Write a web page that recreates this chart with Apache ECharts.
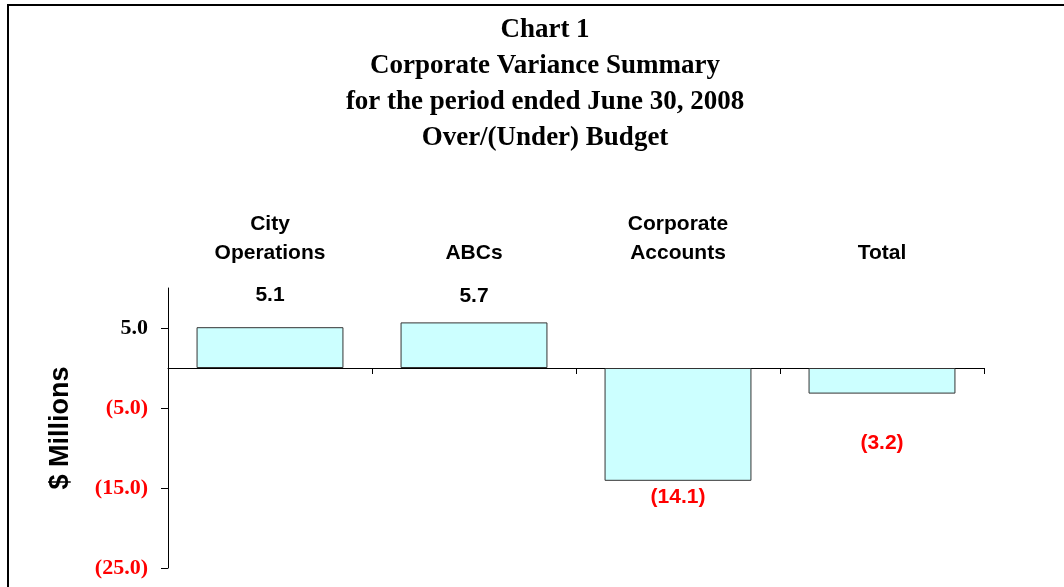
<!DOCTYPE html>
<html>
<head>
<meta charset="utf-8">
<script src="https://cdn.jsdelivr.net/npm/echarts@6/dist/echarts.min.js"></script>
<style>
  html, body { margin: 0; padding: 0; background: #fff; }
  #main { width: 1064px; height: 587px; }
</style>
</head>
<body>
<div id="main"></div>
<script>
var titleLines = ['Chart 1', 'Corporate Variance Summary', 'for the period ended June 30, 2008', 'Over/(Under) Budget'];
var categories = ['City\nOperations', 'ABCs', 'Corporate\nAccounts', 'Total'];
var variance = [5.1, 5.7, -14.1, -3.2];
var yTicks = [5, -5, -15, -25];

var serif = '"Times New Roman", "Liberation Serif", serif';
var sans = 'Arial, "Liberation Sans", sans-serif';

function fmt(v) {
    return v < 0 ? '(' + Math.abs(v).toFixed(1) + ')' : v.toFixed(1);
}

// label placement differs per bar in the original
var labelGap = [21, 16, 6, 39];

var myChart = echarts.init(document.getElementById('main'));

var option = {
    backgroundColor: '#ffffff',
    animation: false,
    title: {
        text: titleLines.join('\n'),
        left: 540,
        top: 7,
        textAlign: 'center',
        textStyle: {
            fontFamily: serif,
            fontWeight: 'bold',
            fontSize: 27,
            lineHeight: 36,
            color: '#000'
        }
    },
    graphic: [{
        type: 'rect',
        shape: { x: 8, y: 5, width: 1200, height: 800 },
        style: { fill: 'none', stroke: '#000', lineWidth: 2 },
        silent: true
    }],
    grid: {
        left: 168,
        right: 80,
        top: 288,
        bottom: 19,
        containLabel: false
    },
    xAxis: [{
        type: 'category',
        data: categories,
        axisLine: { onZero: true, lineStyle: { color: '#000', width: 1 } },
        axisTick: { show: true, length: 6, lineStyle: { color: '#000' } },
        axisLabel: { show: false },
        splitLine: { show: false }
    }, {
        type: 'category',
        data: categories,
        position: 'top',
        axisLine: { show: false },
        axisTick: { show: false },
        axisLabel: {
            margin: 20,
            fontFamily: sans,
            fontWeight: 'bold',
            fontSize: 21,
            lineHeight: 29,
            color: '#000'
        }
    }],
    yAxis: {
        type: 'value',
        min: -25,
        max: 10,
        interval: 10,
        name: '$ Millions',
        nameLocation: 'middle',
        nameRotate: 90,
        nameGap: 94,
        nameTextStyle: {
            fontFamily: sans,
            fontWeight: 'bold',
            fontSize: 27,
            color: '#000'
        },
        axisLine: { show: true, lineStyle: { color: '#000', width: 1 } },
        axisTick: { show: true, length: 7, customValues: yTicks, lineStyle: { color: '#000' } },
        splitLine: { show: false },
        axisLabel: {
            customValues: yTicks,
            margin: 20,
            fontFamily: serif,
            fontWeight: 'bold',
            fontSize: 22,
            formatter: function (v) { return fmt(v); },
            color: function (v) { return v < 0 ? '#ff0000' : '#000000'; }
        }
    },
    series: [{
        type: 'bar',
        data: variance.map(function (v, i) {
            return {
                value: v,
                label: {
                    position: v < 0 ? 'bottom' : 'top',
                    distance: labelGap[i],
                    color: v < 0 ? '#ff0000' : '#000000'
                }
            };
        }),
        barWidth: '72%',
        itemStyle: {
            color: '#ccffff',
            borderColor: '#333333',
            borderWidth: 1
        },
        label: {
            show: true,
            fontFamily: sans,
            fontWeight: 'bold',
            fontSize: 21,
            formatter: function (p) { return fmt(p.value); }
        }
    }]
};

myChart.setOption(option);
</script>
</body>
</html>
